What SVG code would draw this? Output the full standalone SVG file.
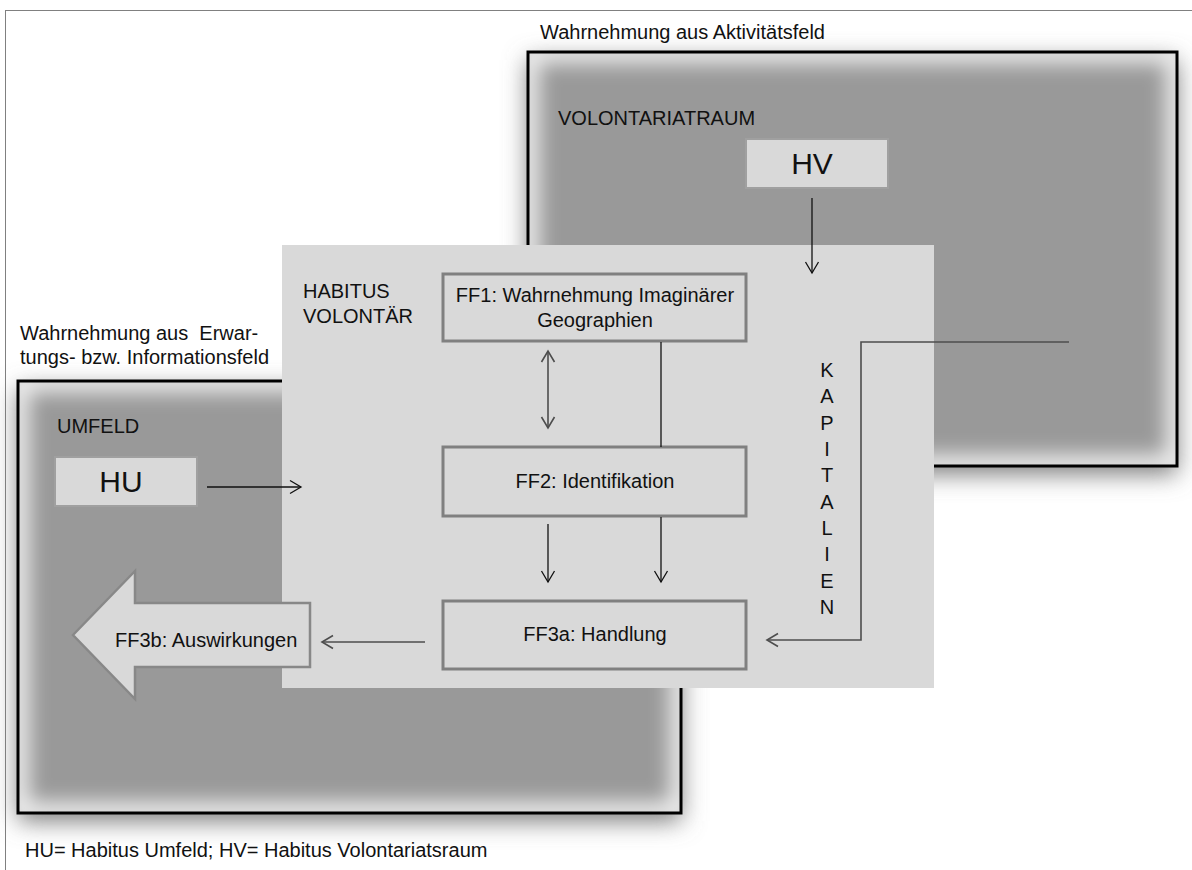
<svg xmlns="http://www.w3.org/2000/svg" width="1192" height="870" viewBox="0 0 1192 870">
  <style>
    text { font-family: "Liberation Sans", Arial, sans-serif; fill: #111; }
    .lbl { font-size: 20px; }
    .big { font-size: 30px; text-anchor: middle; }
    .mid { text-anchor: middle; }
    .field { fill: #999999; }
    .glow { fill: none; stroke: #efefef; stroke-width: 22; filter: url(#blur10); }
    .frameline { fill: none; stroke: #000; stroke-width: 3; }
    .shadow { fill: #7a7a7a; filter: url(#blur12); }
    .ff { fill: #d9d9d9; stroke: #808080; stroke-width: 3; }
    .hbox { fill: #d9d9d9; stroke: #a0a0a0; stroke-width: 2; }
    .ln { fill: none; stroke: #111; stroke-width: 1.3; }
    .lg { fill: none; stroke: #4d4d4d; stroke-width: 1.6; }
  </style>
  <defs>
    <filter id="blur12" x="-20%" y="-20%" width="140%" height="140%">
      <feGaussianBlur stdDeviation="12"/>
    </filter>
    <filter id="blur10" x="-20%" y="-20%" width="140%" height="140%">
      <feGaussianBlur stdDeviation="10"/>
    </filter>
    <clipPath id="clipTR"><rect x="528" y="52" width="649" height="414"/></clipPath>
    <clipPath id="clipL"><rect x="18" y="381" width="663" height="432"/></clipPath>
    <marker id="ah" viewBox="-12 -8 14 16" refX="0" refY="0" markerWidth="14" markerHeight="16" markerUnits="userSpaceOnUse" orient="auto-start-reverse">
      <path d="M-11,-6.5 L0,0 L-11,6.5" fill="none" stroke="#111" stroke-width="1.3"/>
    </marker>
    <marker id="ahg" viewBox="-12 -8 14 16" refX="0" refY="0" markerWidth="14" markerHeight="16" markerUnits="userSpaceOnUse" orient="auto-start-reverse">
      <path d="M-11,-6.5 L0,0 L-11,6.5" fill="none" stroke="#4d4d4d" stroke-width="1.6"/>
    </marker>
  </defs>

  <!-- page frame -->
  <rect x="0" y="0" width="1192" height="870" fill="#ffffff"/>
  <rect x="5.5" y="10.5" width="1200" height="880" fill="none" stroke="#808080" stroke-width="1"/>

  <!-- activity field (top right) -->
  <g id="volontariatsraum">
    <rect class="shadow" x="528" y="60" width="649" height="414"/>
    <rect class="field" x="528" y="52" width="649" height="414"/>
    <rect class="glow" x="528" y="52" width="649" height="414" clip-path="url(#clipTR)"/>
    <rect class="frameline" x="528" y="52" width="649" height="414"/>
    <text class="lbl" x="540" y="39">Wahrnehmung aus Aktivitätsfeld</text>
    <text class="lbl" x="558" y="125">VOLONTARIATRAUM</text>
  </g>

  <!-- expectation / information field (left) -->
  <g id="umfeld">
    <rect class="shadow" x="18" y="389" width="663" height="432"/>
    <rect class="field" x="18" y="381" width="663" height="432"/>
    <rect class="glow" x="18" y="381" width="663" height="432" clip-path="url(#clipL)"/>
    <rect class="frameline" x="18" y="381" width="663" height="432"/>
    <text class="lbl" x="20" y="340" xml:space="preserve">Wahrnehmung aus  Erwar-</text>
    <text class="lbl" x="20" y="364">tungs- bzw. Informationsfeld</text>
    <text class="lbl" x="57" y="433">UMFELD</text>
  </g>

  <!-- volunteer habitus -->
  <g id="habitus-volontaer">
    <rect x="282" y="245" width="652" height="443" fill="#d9d9d9"/>
    <text class="lbl" x="303" y="298">HABITUS</text>
    <text class="lbl" x="303" y="323">VOLONTÄR</text>
    <text class="lbl mid" x="827" y="377">K</text>
    <text class="lbl mid" x="827" y="403">A</text>
    <text class="lbl mid" x="827" y="430">P</text>
    <text class="lbl mid" x="827" y="456">I</text>
    <text class="lbl mid" x="827" y="482">T</text>
    <text class="lbl mid" x="827" y="509">A</text>
    <text class="lbl mid" x="827" y="535">L</text>
    <text class="lbl mid" x="827" y="561">I</text>
    <text class="lbl mid" x="827" y="588">E</text>
    <text class="lbl mid" x="827" y="614">N</text>
  </g>

  <g id="hv">
    <rect class="hbox" x="746" y="139" width="142" height="49"/>
    <text class="big" x="812" y="174">HV</text>
  </g>

  <g id="hu">
    <rect class="hbox" x="55" y="457" width="142" height="49"/>
    <text class="big" x="121" y="492">HU</text>
  </g>

  <g id="ff1">
    <rect class="ff" x="443" y="274" width="303" height="67"/>
    <text class="lbl mid" x="595" y="302">FF1: Wahrnehmung Imaginärer</text>
    <text class="lbl mid" x="595" y="327">Geographien</text>
  </g>

  <g id="ff2">
    <rect class="ff" x="443" y="447" width="303" height="69"/>
    <text class="lbl mid" x="595" y="488">FF2: Identifikation</text>
  </g>

  <g id="ff3a">
    <rect class="ff" x="443" y="601" width="303" height="68"/>
    <text class="lbl mid" x="595" y="641">FF3a: Handlung</text>
  </g>

  <g id="ff3b">
    <path d="M73,635 L135,571 L135,603 L310,603 L310,667 L135,667 L135,699 Z" fill="#d9d9d9" stroke="#888888" stroke-width="2.5" stroke-linejoin="miter"/>
    <text class="lbl" x="115" y="647">FF3b: Auswirkungen</text>
  </g>

  <!-- connectors -->
  <g id="connectors">
    <line class="ln" x1="812" y1="198" x2="812" y2="273" marker-end="url(#ah)"/>
    <line class="ln" x1="207" y1="487" x2="301" y2="487" marker-end="url(#ah)"/>
    <line class="lg" x1="548" y1="351" x2="548" y2="428" marker-start="url(#ahg)" marker-end="url(#ahg)"/>
    <line class="ln" x1="661" y1="342" x2="661" y2="447"/>
    <line class="ln" x1="548" y1="524" x2="548" y2="582" marker-end="url(#ah)"/>
    <line class="ln" x1="661" y1="517" x2="661" y2="582" marker-end="url(#ah)"/>
    <line class="lg" x1="425" y1="642" x2="322" y2="642" marker-end="url(#ahg)"/>
    <polyline class="lg" points="1069,342 861,342 861,640 767,640" marker-end="url(#ahg)"/>
  </g>

  <text class="lbl" x="25" y="857">HU= Habitus Umfeld; HV= Habitus Volontariatsraum</text>
</svg>
